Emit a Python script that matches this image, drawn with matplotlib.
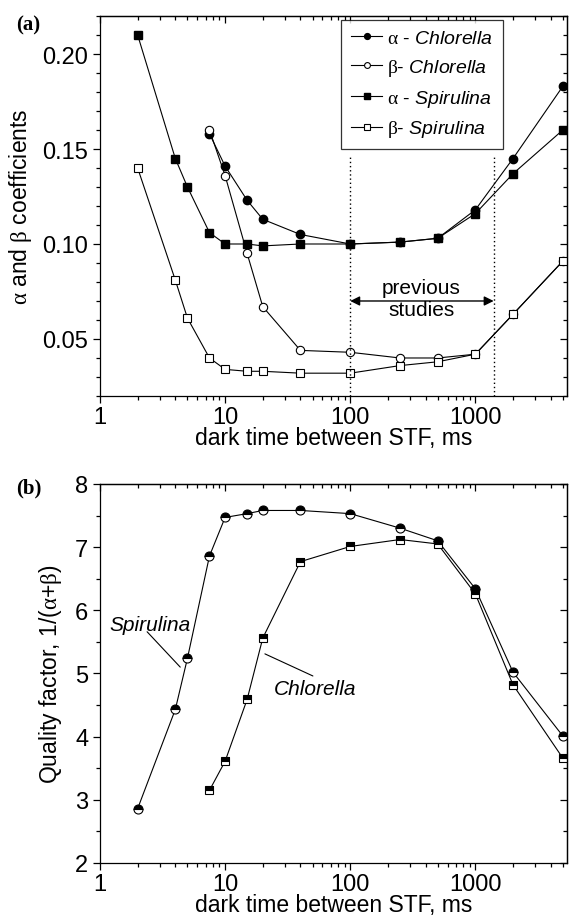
import numpy as np
import matplotlib
matplotlib.use('Agg')
from matplotlib import pyplot as plt
from matplotlib.ticker import MultipleLocator, LogLocator, NullFormatter, FixedLocator, FixedFormatter

plt.rcParams.update({
    'font.family': 'Liberation Sans',
    'mathtext.fontset': 'custom',
    'mathtext.rm': 'Liberation Serif',
    'mathtext.it': 'Liberation Sans:italic',
    'mathtext.bf': 'Liberation Serif:bold',
    'axes.linewidth': 0.9,
    'xtick.major.width': 0.9,
    'ytick.major.width': 0.9,
    'xtick.minor.width': 0.9,
    'ytick.minor.width': 0.9,
    'xtick.major.size': 5,
    'ytick.major.size': 5,
    'xtick.minor.size': 3,
    'ytick.minor.size': 3,
})

# (a) alpha / beta coefficients vs dark time
t_chl = [7.5, 10, 15, 20, 40, 100, 250, 500, 1000, 2000, 5000]
alpha_chl = [0.158, 0.141, 0.123, 0.113, 0.105, 0.100, 0.101, 0.103, 0.118, 0.145, 0.183]
beta_chl = [0.160, 0.136, 0.095, 0.067, 0.044, 0.043, 0.040, 0.040, 0.042, 0.063, 0.091]

t_spi = [2, 4, 5, 7.5, 10, 15, 20, 40, 100, 250, 500, 1000, 2000, 5000]
alpha_spi = [0.210, 0.145, 0.130, 0.106, 0.100, 0.100, 0.099, 0.100, 0.100, 0.101, 0.103, 0.116, 0.137, 0.160]
beta_spi = [0.140, 0.081, 0.061, 0.040, 0.034, 0.033, 0.033, 0.032, 0.032, 0.036, 0.038, 0.042, 0.063, 0.091]

# (b) quality factor 1/(alpha+beta)
q_spi = [2.86, 4.43, 5.24, 6.86, 7.47, 7.53, 7.58, 7.58, 7.53, 7.30, 7.10, 6.34, 5.02, 4.01]
q_chl = [3.15, 3.61, 4.59, 5.56, 6.77, 7.01, 7.12, 7.05, 6.26, 4.82, 3.66]

prev_studies = [100, 1400]
xticks = [1, 10, 100, 1000]
xticklabels = ['1', '10', '100', '1000']

# leader lines for the curve labels in (b): (text end, curve end)
spi_leader = [(2.38, 5.66), (4.38, 5.10)]
chl_leader = [(50.3, 4.96), (20.8, 5.31)]

fig = plt.figure(figsize=(5.71, 9.2), dpi=100)
ax0 = fig.add_axes((0.1751, 0.5685, 0.8179, 0.413))
ax1 = fig.add_axes((0.1751, 0.0609, 0.8179, 0.412))

lw = 0.8
ax0.plot(t_chl, alpha_chl, '-o', color='k', lw=lw, ms=6, mfc='k', mec='k', label=r'$\mathrm{\alpha}$ - $\mathit{Chlorella}$')
ax0.plot(t_chl, beta_chl, '-o', color='k', lw=lw, ms=6, mfc='w', mec='k', mew=0.8, label=r'$\mathrm{\beta}$- $\mathit{Chlorella}$')
ax0.plot(t_spi, alpha_spi, '-s', color='k', lw=lw, ms=5.5, mfc='k', mec='k', label=r'$\mathrm{\alpha}$ - $\mathit{Spirulina}$')
ax0.plot(t_spi, beta_spi, '-s', color='k', lw=lw, ms=5.5, mfc='w', mec='k', mew=0.8, label=r'$\mathrm{\beta}$- $\mathit{Spirulina}$')

ax0.set_ylim(0.02, 0.22)
ax0.set_yticks([0.05, 0.10, 0.15, 0.20])
ax0.set_yticklabels(['0.05', '0.10', '0.15', '0.20'])
ax0.yaxis.set_minor_locator(MultipleLocator(0.01))
ax0.set_ylabel(r'$\mathrm{\alpha}$ and $\mathrm{\beta}$ coefficients', fontsize=16.5, labelpad=6)

ax0.vlines(prev_studies, 0.02, 0.147, colors='k', linestyles=(0, (1, 2)), lw=1)
ax0.annotate('', xy=(prev_studies[0], 0.070), xytext=(prev_studies[1], 0.070),
             arrowprops=dict(arrowstyle='<|-|>', color='k', lw=1, mutation_scale=14, shrinkA=0, shrinkB=0))
ax0.text(371, 0.0712, 'previous\nstudies', ha='center', va='center', fontsize=15, linespacing=1.2)

leg = ax0.legend(loc='upper left', bbox_to_anchor=(0.517, 0.99), borderaxespad=0, fontsize=14,
                 frameon=True, fancybox=False, edgecolor='k', handlelength=1.6, handletextpad=0.25,
                 labelspacing=0.5, markerscale=0.7, borderpad=0.5)
leg.get_frame().set_linewidth(0.9)

ax1.plot(t_spi, q_spi, '-o', color='k', lw=lw, ms=6.5, fillstyle='top', mfc='k', mfcalt='w', mec='k', mew=0.8)
ax1.plot(t_chl, q_chl, '-s', color='k', lw=lw, ms=6, fillstyle='top', mfc='k', mfcalt='w', mec='k', mew=0.8)
ax1.set_ylim(2, 8)
ax1.yaxis.set_major_locator(MultipleLocator(1))
ax1.yaxis.set_minor_locator(MultipleLocator(0.5))
ax1.set_ylabel(r'Quality factor, 1/($\mathrm{\alpha}$+$\mathrm{\beta}$)', fontsize=16.5, labelpad=8)

for start, end in [spi_leader, chl_leader]:
    ax1.annotate('', xy=end, xytext=start,
                 arrowprops=dict(arrowstyle='-', color='k', lw=0.8, shrinkA=0, shrinkB=0))
ax1.text(2.53, 5.77, 'Spirulina', fontsize=15, style='italic', ha='center', va='center')
ax1.text(52.2, 4.76, 'Chlorella', fontsize=15, style='italic', ha='center', va='center')

for ax in [ax0, ax1]:
    ax.set_xscale('log')
    ax.set_xlim(1, 5400)
    ax.xaxis.set_major_locator(FixedLocator(xticks))
    ax.xaxis.set_major_formatter(FixedFormatter(xticklabels))
    ax.xaxis.set_minor_locator(LogLocator(base=10, subs=np.arange(2, 10)))
    ax.xaxis.set_minor_formatter(NullFormatter())
    ax.tick_params(which='both', direction='out', labelsize=17)
    ax.tick_params(axis='x', pad=2)
    ax.set_xlabel('dark time between STF, ms', fontsize=16.5, labelpad=-1)

    top = ax.secondary_xaxis('top')
    top.xaxis.set_major_locator(FixedLocator(xticks))
    top.xaxis.set_minor_locator(LogLocator(base=10, subs=np.arange(2, 10)))
    top.tick_params(which='both', direction='in', labeltop=False)
    top.xaxis.set_minor_formatter(NullFormatter())

    right = ax.secondary_yaxis('right')
    right.yaxis.set_major_locator(ax.yaxis.get_major_locator())
    right.yaxis.set_minor_locator(ax.yaxis.get_minor_locator())
    right.tick_params(which='both', direction='in', labelright=False)

fig.text(0.028, 1 - 25 / 920, '(a)', fontsize=15, fontweight='bold', family='Liberation Serif', va='center')
fig.text(0.028, 1 - 488 / 920, '(b)', fontsize=15, fontweight='bold', family='Liberation Serif', va='center')

plt.savefig('out.png', dpi=100)
